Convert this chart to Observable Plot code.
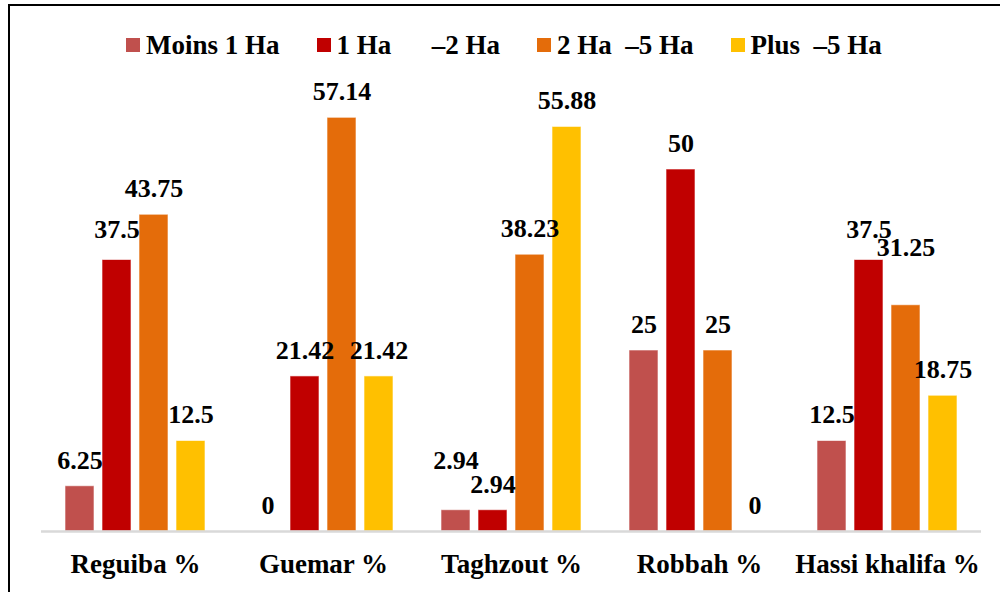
<!DOCTYPE html>
<html><head><meta charset="utf-8">
<script src="https://cdn.jsdelivr.net/npm/d3@7"></script>
<script src="https://cdn.jsdelivr.net/npm/@observablehq/plot@0.6"></script>
<style>
html,body{margin:0;padding:0;background:#fff;overflow:hidden;}
#wrap{position:relative;width:1000px;height:592px;overflow:hidden;font-weight:bold;color:#000;font-family:"Liberation Serif",serif;}
#frame{position:absolute;left:8px;top:4px;width:1000px;height:620px;border:2px solid #000;box-sizing:border-box;}
#legend{position:absolute;left:126px;top:29px;display:flex;align-items:center;gap:37px;font-size:27px;white-space:pre;line-height:32px;}
.item{display:flex;align-items:center;gap:6px}
.sw{width:14px;height:14px;display:inline-block}
#chart{position:absolute;left:0;top:0}
</style>
</head><body>
<div id="wrap"><div id="frame"></div><div id="chart"></div><div id="legend"></div></div>
<script>
const sites = ["Reguiba %", "Guemar %", "Taghzout %", "Robbah %", "Hassi khalifa %"];
const classes = ["Moins 1 Ha", "1 Ha      \u20132 Ha", "2 Ha  \u20135 Ha", "Plus  \u20135 Ha"];
const moins1Ha = [6.25, 0, 2.94, 25, 12.5];
const ha1to2 = [37.5, 21.42, 2.94, 50, 37.5];
const ha2to5 = [43.75, 57.14, 38.23, 25, 31.25];
const plus5Ha = [12.5, 21.42, 55.88, 0, 18.75];
const colors = ["#C0504D", "#C00000", "#E46C0A", "#FFC000"];

// manual label nudges (extra lift in px) to mimic the reference's label placement
const labelLift = {"Taghzout %|0": 24, "Hassi khalifa %|2": 32, "Reguiba %|1": 4, "Hassi khalifa %|1": 4};

const series = [moins1Ha, ha1to2, ha2to5, plus5Ha];
const data = [];
sites.forEach((s, i) => series.forEach((arr, j) => {
  data.push({site: s, cls: classes[j], value: arr[i], lift: labelLift[s + "|" + j] || 0});
}));

const lifts = [...new Set(data.map(d => d.lift))];
const serif = "Liberation Serif";

const chart = Plot.plot({
  width: 1000, height: 592,
  marginLeft: 40, marginRight: 18, marginTop: 96.6, marginBottom: 61,
  style: {fontFamily: serif, fontWeight: "bold", fontSize: "27px", color: "#000", background: "transparent"},
  fx: {domain: sites, padding: 0, axis: "bottom", label: null, tickSize: 0, tickPadding: 22},
  x: {domain: classes, axis: null, paddingInner: 0.204, paddingOuter: 0.6},
  y: {domain: [0, 60], axis: null},
  color: {domain: classes, range: colors},
  marks: [
    Plot.barY(data, {fx: "site", x: "cls", y: "value", fill: "cls", stroke: "#fff", strokeOpacity: 0.6, strokeWidth: 1}),
    Plot.ruleY([0], {stroke: "#d9d9d9", strokeWidth: 2.5}),
    ...lifts.map(l => Plot.text(data.filter(d => d.lift === l), {
      fx: "site", x: "cls", y: "value", text: d => String(d.value),
      dy: -26 - l, fontSize: 26, fontWeight: "bold", fill: "#000", fontFamily: serif
    }))
  ]
});
document.getElementById("chart").appendChild(chart);

const legend = document.getElementById("legend");
classes.forEach((c, i) => {
  const item = document.createElement("div");
  item.className = "item";
  const sw = document.createElement("span");
  sw.className = "sw";
  sw.style.background = colors[i];
  const t = document.createElement("span");
  t.textContent = c;
  item.appendChild(sw);
  item.appendChild(t);
  legend.appendChild(item);
});
</script>
</body></html>
